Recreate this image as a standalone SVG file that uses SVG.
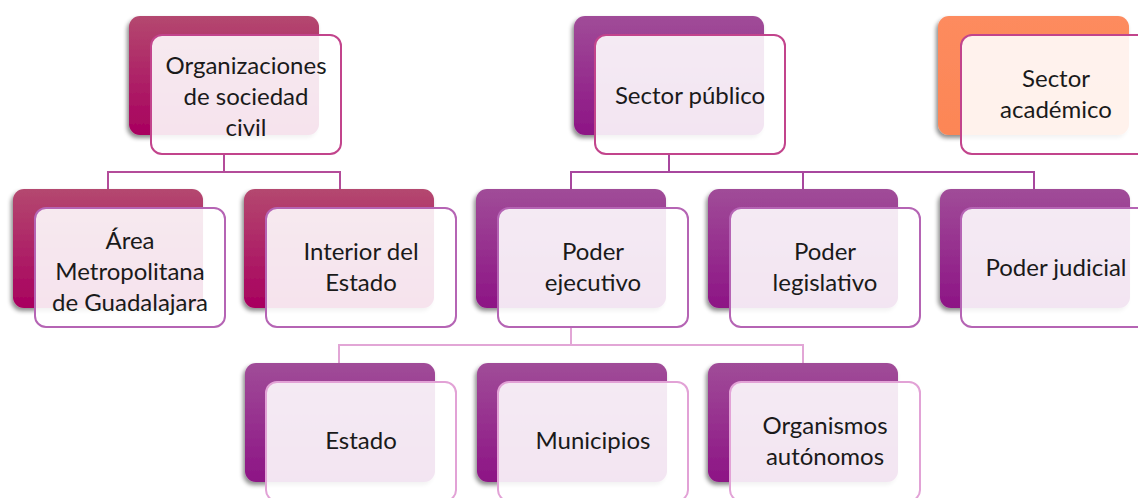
<svg xmlns="http://www.w3.org/2000/svg" width="1138" height="498" viewBox="0 0 1138 498">
<defs>
<linearGradient id="gMag" x1="0" y1="0" x2="0" y2="1"><stop offset="0" stop-color="#b4486f"/><stop offset="1" stop-color="#a8005f"/></linearGradient>
<linearGradient id="gPur" x1="0" y1="0" x2="0" y2="1"><stop offset="0" stop-color="#a04c98"/><stop offset="1" stop-color="#8d1485"/></linearGradient>
<linearGradient id="gOra" x1="0" y1="0" x2="0" y2="1"><stop offset="0" stop-color="#fd8b5e"/><stop offset="1" stop-color="#fc8656"/></linearGradient>
<filter id="sh" x="-10%" y="-10%" width="120%" height="125%"><feDropShadow dx="-2" dy="3" stdDeviation="2.2" flood-color="#000" flood-opacity="0.45"/></filter>
<style>
.bk{filter:url(#sh)}
.mag{fill:url(#gMag)}
.pur{fill:url(#gPur)}
.ora{fill:url(#gOra)}
.fr{fill:#ffffff;fill-opacity:0.89;stroke-width:2}
.sMag{stroke:#c2448c}
.sPur{stroke:#b564b4}
.sLt{stroke:#e2a2d6}
.t{font-family:Lato,"Open Sans","Liberation Sans",sans-serif;font-size:24px;fill:#1a1a1a;text-anchor:middle}
.c{fill:none;stroke-width:2}
</style>
</defs>
<g id="connectors">
<path class="c" stroke="#b44c9a" d="M224 154V172M108 189V172H340V189"/>
<path class="c" stroke="#a8479e" d="M669 154V172M571 189V172H1034V189M803 172V189"/>
<path class="c" stroke="#e2a6d6" d="M571 327V345M339 363V345H803V363"/>
</g>
<g id="n-org">
<rect class="bk mag" x="129" y="16" width="190" height="119" rx="11"/>
<rect class="fr sMag" x="151" y="35" width="190" height="119" rx="11"/>
<text class="t" x="246" y="74">Organizaciones</text>
<text class="t" x="246" y="105">de sociedad</text>
<text class="t" x="246" y="136">civil</text>
</g>
<g id="n-publico">
<rect class="bk pur" x="574" y="16" width="190" height="119" rx="11"/>
<rect class="fr sMag" x="595" y="35" width="190" height="119" rx="11"/>
<text class="t" x="690" y="104">Sector público</text>
</g>
<g id="n-academico">
<rect class="bk ora" x="938" y="16" width="191" height="119" rx="11"/>
<rect class="fr sMag" x="961" y="35" width="190" height="119" rx="11"/>
<text class="t" x="1056" y="87">Sector</text>
<text class="t" x="1056" y="118">académico</text>
</g>
<g id="n-amg">
<rect class="bk mag" x="13" y="189" width="190" height="119" rx="11"/>
<rect class="fr sPur" x="35" y="208" width="190" height="119" rx="11"/>
<text class="t" x="130" y="249">Área</text>
<text class="t" x="130" y="280">Metropolitana</text>
<text class="t" x="130" y="311">de Guadalajara</text>
</g>
<g id="n-interior">
<rect class="bk mag" x="244" y="189" width="190" height="119" rx="11"/>
<rect class="fr sPur" x="266" y="208" width="190" height="119" rx="11"/>
<text class="t" x="361" y="260">Interior del</text>
<text class="t" x="361" y="291">Estado</text>
</g>
<g id="n-ejecutivo">
<rect class="bk pur" x="476" y="189" width="190" height="119" rx="11"/>
<rect class="fr sPur" x="498" y="208" width="190" height="119" rx="11"/>
<text class="t" x="593" y="260">Poder</text>
<text class="t" x="593" y="291">ejecutivo</text>
</g>
<g id="n-legislativo">
<rect class="bk pur" x="708" y="189" width="190" height="119" rx="11"/>
<rect class="fr sPur" x="730" y="208" width="190" height="119" rx="11"/>
<text class="t" x="825" y="260">Poder</text>
<text class="t" x="825" y="291">legislativo</text>
</g>
<g id="n-judicial">
<rect class="bk pur" x="940" y="189" width="190" height="119" rx="11"/>
<rect class="fr sPur" x="961" y="208" width="190" height="119" rx="11"/>
<text class="t" x="1056" y="276">Poder judicial</text>
</g>
<g id="n-estado">
<rect class="bk pur" x="245" y="363" width="190" height="119" rx="11"/>
<rect class="fr sLt" x="266" y="382" width="190" height="119" rx="11"/>
<text class="t" x="361" y="449">Estado</text>
</g>
<g id="n-municipios">
<rect class="bk pur" x="477" y="363" width="190" height="119" rx="11"/>
<rect class="fr sLt" x="498" y="382" width="190" height="119" rx="11"/>
<text class="t" x="593" y="449">Municipios</text>
</g>
<g id="n-organismos">
<rect class="bk pur" x="708" y="363" width="190" height="119" rx="11"/>
<rect class="fr sLt" x="730" y="382" width="190" height="119" rx="11"/>
<text class="t" x="825" y="434">Organismos</text>
<text class="t" x="825" y="465">autónomos</text>
</g>
</svg>
